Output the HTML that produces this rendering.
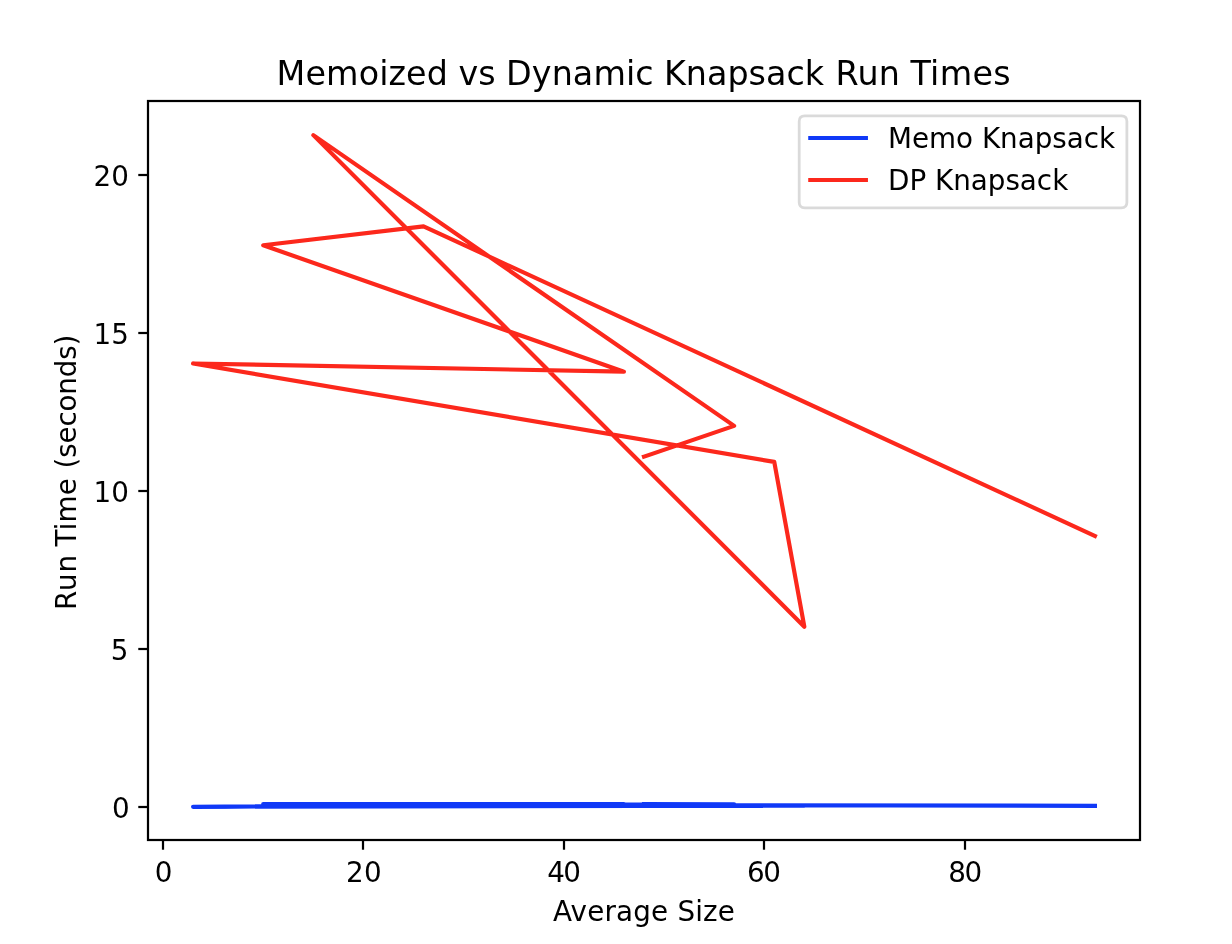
<!DOCTYPE html>
<html lang="en"><head><meta charset="utf-8"><title>Memoized vs Dynamic Knapsack Run Times</title>
<style>html,body{margin:0;padding:0;background:#fff;}body{width:1232px;height:944px;overflow:hidden;}svg{display:block;}text{font-family:"DejaVu Sans","Liberation Sans",sans-serif;fill:#000;}</style>
</head><body>
<svg width="1232" height="944" viewBox="0 0 1232 944">
<rect x="0" y="0" width="1232" height="944" fill="#ffffff"/>
<defs><clipPath id="ax"><rect x="148" y="101.2" width="992" height="739.1999999999999"/></clipPath></defs>
<polyline points="644.00,804.11 734.18,804.43 313.33,804.59 804.32,805.69 774.26,805.69 193.09,806.80 623.96,803.96 263.23,804.11 423.56,804.59 1094.91,805.85" fill="none" stroke="#1039f7" stroke-width="4.17" stroke-linecap="square" stroke-linejoin="round" clip-path="url(#ax)"/>
<polyline points="644.00,456.67 734.18,425.87 313.33,135.12 804.32,626.68 774.26,461.86 193.09,363.46 623.96,371.67 263.23,245.27 423.56,226.31 1094.91,535.93" fill="none" stroke="#fc281c" stroke-width="4.17" stroke-linecap="square" stroke-linejoin="round" clip-path="url(#ax)"/>
<rect x="148" y="101" width="992" height="739" fill="none" stroke="#000" stroke-width="2.22" stroke-linejoin="miter"/>
<line x1="163" y1="840" x2="163" y2="849.72" stroke="#000" stroke-width="2.22"/>
<text x="163.53" y="881.94" font-size="27.78" text-anchor="middle">0</text>
<line x1="363" y1="840" x2="363" y2="849.72" stroke="#000" stroke-width="2.22"/>
<text x="363.83" y="881.94" font-size="27.78" text-anchor="middle" textLength="35.9" lengthAdjust="spacing">20</text>
<line x1="564" y1="840" x2="564" y2="849.72" stroke="#000" stroke-width="2.22"/>
<text x="564.14" y="881.94" font-size="27.78" text-anchor="middle" textLength="33.8" lengthAdjust="spacing">40</text>
<line x1="764" y1="840" x2="764" y2="849.72" stroke="#000" stroke-width="2.22"/>
<text x="764.04" y="881.94" font-size="27.78" text-anchor="middle" textLength="34.0" lengthAdjust="spacing">60</text>
<line x1="965" y1="840" x2="965" y2="849.72" stroke="#000" stroke-width="2.22"/>
<text x="965.15" y="881.94" font-size="27.78" text-anchor="middle" textLength="34.0" lengthAdjust="spacing">80</text>
<line x1="138.28" y1="807" x2="148" y2="807" stroke="#000" stroke-width="2.22"/>
<text x="129.56" y="818.35" font-size="27.78" text-anchor="end">0</text>
<line x1="138.28" y1="649" x2="148" y2="649" stroke="#000" stroke-width="2.22"/>
<text x="128.46" y="660.35" font-size="27.78" text-anchor="end">5</text>
<line x1="138.28" y1="491" x2="148" y2="491" stroke="#000" stroke-width="2.22"/>
<text x="128.86" y="502.35" font-size="27.78" text-anchor="end">10</text>
<line x1="138.28" y1="333" x2="148" y2="333" stroke="#000" stroke-width="2.22"/>
<text x="128.86" y="344.35" font-size="27.78" text-anchor="end">15</text>
<line x1="138.28" y1="175" x2="148" y2="175" stroke="#000" stroke-width="2.22"/>
<text x="128.86" y="186.36" font-size="27.78" text-anchor="end">20</text>
<text y="84.53" font-size="33.33"><tspan x="276.60" textLength="171.29" lengthAdjust="spacing">Memoized</tspan> <tspan x="458.50" textLength="37.20" lengthAdjust="spacing">vs</tspan> <tspan x="506.00" textLength="147.70" lengthAdjust="spacing">Dynamic</tspan> <tspan x="664.00" textLength="160.10" lengthAdjust="spacing">Knapsack</tspan> <tspan x="835.50" textLength="64.40" lengthAdjust="spacing">Run</tspan> <tspan x="910.40" textLength="100.30" lengthAdjust="spacing">Times</tspan></text>
<text x="644.00" y="921" font-size="27.78" text-anchor="middle" textLength="181.9" lengthAdjust="spacing">Average Size</text>
<text y="0.00" font-size="27.78" transform="translate(76,470.80) rotate(-90)"><tspan x="-139.20" textLength="55.15" lengthAdjust="spacing">Run</tspan> <tspan x="-75.74" textLength="68.26" lengthAdjust="spacing">Time</tspan> <tspan x="2.33" textLength="133.87" lengthAdjust="spacing">(seconds)</tspan></text>
<path d="M804.76,115.90 L1121.34,115.90 Q1126.90,115.90 1126.90,121.46 L1126.90,202.34 Q1126.90,207.90 1121.34,207.90 L804.76,207.90 Q799.20,207.90 799.20,202.34 L799.20,121.46 Q799.20,115.90 804.76,115.90 Z" fill="#ffffff" fill-opacity="0.8" stroke="#cccccc" stroke-opacity="0.72" stroke-width="2.78" stroke-linejoin="miter"/>
<line x1="810.31" y1="138" x2="865.87" y2="138" stroke="#1039f7" stroke-width="4.17" stroke-linecap="square"/>
<line x1="810.31" y1="180" x2="865.87" y2="180" stroke="#fc281c" stroke-width="4.17" stroke-linecap="square"/>
<text x="888" y="148" font-size="27.78">Memo Knapsack</text>
<text x="888" y="190" font-size="27.78">DP Knapsack</text>
</svg>
</body></html>
